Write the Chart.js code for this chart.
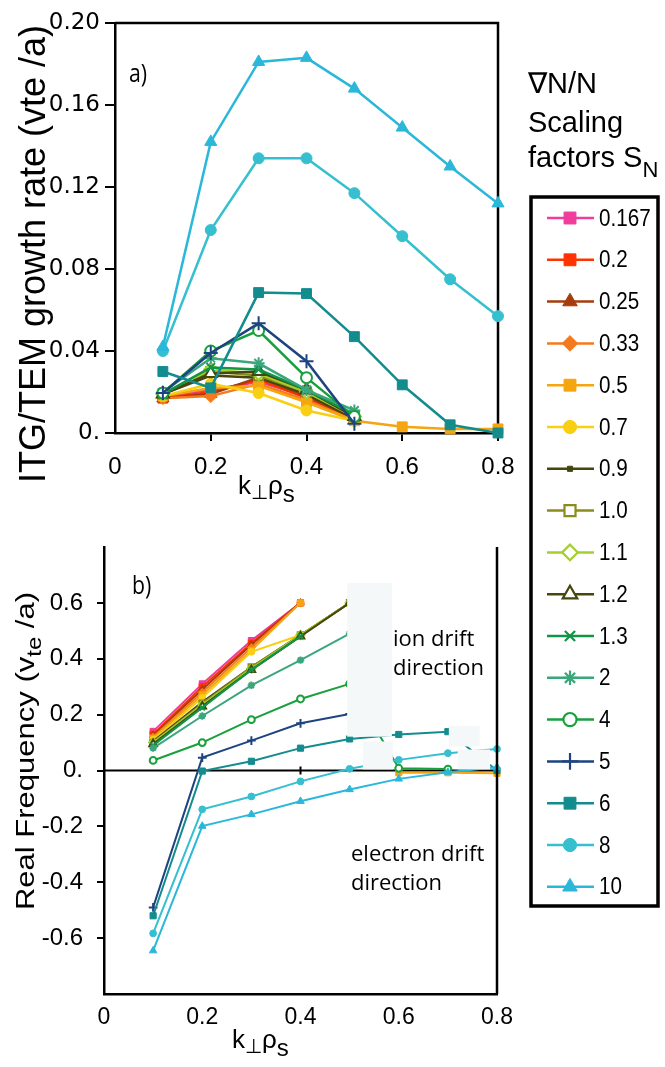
<!DOCTYPE html>
<html>
<head>
<meta charset="utf-8">
<script src="https://cdn.jsdelivr.net/npm/chart.js@4/dist/chart.umd.min.js"></script>
<style>
  body { margin: 0; background: #fff; }
  #wrap { position: relative; width: 665px; height: 1067px; }
  #wrap canvas { position: absolute; left: 0; top: 0; }
</style>
</head>
<body>
<div id="wrap">
  <canvas id="growth" width="665" height="1067"></canvas>
  <canvas id="freq" width="665" height="1067"></canvas>
</div>
<script>
// k_perp rho_s sample points
const kRho = [0.1, 0.2, 0.3, 0.4, 0.5, 0.6, 0.7, 0.8];

// gradient scaling factors S_N
const scalingFactors = ["0.167", "0.2", "0.25", "0.33", "0.5", "0.7", "0.9", "1.0", "1.1", "1.2", "1.3", "2", "4", "5", "6", "8", "10"];

// growth rate (v_te/a)
const growth_0p167 = [0.018, 0.021, 0.025, 0.018, 0.007];
const growth_0p2 = [0.017, 0.020, 0.026, 0.017, 0.007];
const growth_0p25 = [0.017, 0.019, 0.027, 0.018, 0.007];
const growth_0p33 = [0.017, 0.018, 0.024, 0.016, 0.006];
const growth_0p5 = [0.018, 0.022, 0.023, 0.015, 0.006, 0.003, 0.002, 0.002];
const growth_0p7 = [0.018, 0.024, 0.0195, 0.011, 0.006];
const growth_0p9 = [0.019, 0.028, 0.027, 0.019, 0.007];
const growth_1p0 = [0.019, 0.030, 0.028, 0.020, 0.008];
const growth_1p1 = [0.019, 0.031, 0.029, 0.020, 0.008];
const growth_1p2 = [0.019, 0.029, 0.030, 0.021, 0.008];
const growth_1p3 = [0.019, 0.032, 0.031, 0.021, 0.009];
const growth_2 = [0.020, 0.0365, 0.034, 0.021, 0.011];
const growth_4 = [0.0195, 0.040, 0.050, 0.027, 0.008];
const growth_5 = [0.0195, 0.039, 0.0535, 0.035, 0.0045];
const growth_6 = [0.030, 0.022, 0.0685, 0.068, 0.047, 0.0235, 0.004, 0.0];
const growth_8 = [0.040, 0.099, 0.134, 0.134, 0.117, 0.096, 0.075, 0.057];
const growth_10 = [0.042, 0.142, 0.181, 0.183, 0.168, 0.149, 0.130, 0.112];

// real frequency (v_te/a)
const freq_0p167 = [0.14, 0.31, 0.465, 0.60];
const freq_0p2 = [0.13, 0.30, 0.455, 0.60];
const freq_0p25 = [0.125, 0.29, 0.45, 0.60];
const freq_0p33 = [0.12, 0.28, 0.44, 0.60];
const freq_0p5 = [0.115, 0.27, 0.43, 0.60, null, -0.008, -0.008, -0.01];
const freq_0p7 = [0.11, 0.26, 0.425, 0.485, 0.60];
const freq_0p9 = [0.105, 0.245, 0.37, 0.485, 0.60];
const freq_1p0 = [0.10, 0.24, 0.37, 0.485, 0.60];
const freq_1p1 = [0.10, 0.235, 0.365, 0.485, 0.60];
const freq_1p2 = [0.095, 0.23, 0.36, 0.48, 0.60];
const freq_1p3 = [0.09, 0.225, 0.36, 0.48];
const freq_2 = [0.08, 0.195, 0.305, 0.395, 0.49];
const freq_4 = [0.036, 0.10, 0.182, 0.256, 0.31, 0.008, 0.005];
const freq_5 = [-0.49, 0.046, 0.107, 0.169, 0.202];
const freq_6 = [-0.52, -0.002, 0.033, 0.08, 0.113, 0.129, 0.139, 0.0];
const freq_8 = [-0.583, -0.139, -0.093, -0.039, 0.006, 0.038, 0.062, 0.077];
const freq_10 = [-0.645, -0.199, -0.157, -0.11, -0.068, -0.03, -0.006, 0.012];

const growthSeries = [growth_0p167, growth_0p2, growth_0p25, growth_0p33, growth_0p5, growth_0p7, growth_0p9,
    growth_1p0, growth_1p1, growth_1p2, growth_1p3, growth_2, growth_4, growth_5, growth_6, growth_8, growth_10];
const freqSeries = [freq_0p167, freq_0p2, freq_0p25, freq_0p33, freq_0p5, freq_0p7, freq_0p9,
    freq_1p0, freq_1p1, freq_1p2, freq_1p3, freq_2, freq_4, freq_5, freq_6, freq_8, freq_10];

// styling per series
const seriesColors = ["#ee3d9b", "#ff3300", "#a63c0c", "#f57a1e", "#f5a50f", "#f8cf12", "#454510", "#8c8c1c",
    "#a3d02c", "#46460f", "#129447", "#3aa67c", "#17a03c", "#1e4480", "#138c8e", "#36bfcf", "#2bb7d9"];
const markerStyles = ["rect", "rect", "triangle", "rectRot", "rect", "circle", "rect", "rect",
    "rectRot", "triangle", "crossRot", "star", "circle", "cross", "rect", "circle", "triangle"];
const openMarkers = [false, false, false, false, false, false, false, true,
    true, true, false, false, true, false, false, false, false];
const markerRadius = [7, 7, 7, 6.5, 7, 5.5, 3, 6.5, 6.5, 7, 6, 6, 5.5, 7, 7, 5.5, 7];

const SANS = '"Liberation Sans", Arial, sans-serif';
const HUMANIST = '"Open Sans", "Noto Sans", sans-serif';

Chart.defaults.color = "#000";

const lineMarks = new Set(["cross", "crossRot", "star"]);

const makeDatasets = (series, scale, lineWidth) => series.map((vals, i) => ({
    label: scalingFactors[i],
    data: vals.map((v, j) => ({ x: kRho[j], y: v })),
    borderColor: seriesColors[i],
    backgroundColor: seriesColors[i],
    pointBackgroundColor: openMarkers[i] ? "#fff" : seriesColors[i],
    pointBorderColor: seriesColors[i],
    pointBorderWidth: lineMarks.has(markerStyles[i]) || openMarkers[i] ? 2 : 1,
    pointStyle: markerStyles[i],
    pointRadius: markerRadius[i] * scale,
    borderWidth: lineWidth,
    spanGaps: false,
    clip: false,
    order: -i,
}));

// text made of runs, some shifted down as subscripts
const drawRuns = (ctx, runs, x, y) => {
    let cx = x;
    runs.forEach((r) => {
        ctx.font = r.font;
        ctx.fillText(r.text, cx, y + (r.dy || 0));
        cx += ctx.measureText(r.text).width;
    });
    return cx - x;
};

const runsWidth = (ctx, runs) => runs.reduce((w, r) => {
    ctx.font = r.font;
    return w + ctx.measureText(r.text).width;
}, 0);

const drawRotatedTitle = (ctx, runs, cx, cy, squeeze) => {
    ctx.save();
    ctx.translate(cx, cy);
    ctx.rotate(-Math.PI / 2);
    ctx.scale(1, squeeze || 1);
    ctx.textBaseline = "alphabetic";
    const w = runsWidth(ctx, runs);
    drawRuns(ctx, runs, -w / 2, 0);
    ctx.restore();
};

// narrow text: squeeze horizontally around the anchor
const drawNarrow = (ctx, text, x, y, font, squeeze) => {
    ctx.save();
    ctx.translate(x, y);
    ctx.scale(squeeze, 1);
    ctx.font = font;
    ctx.fillText(text, 0, 0);
    ctx.restore();
};

const kRhoRuns = [
    { text: "k", font: `26px ${SANS}` },
    { text: "\u22A5", font: `20px ${SANS}`, dy: 5 },
    { text: "\u03C1", font: `26px ${SANS}` },
    { text: "s", font: `24px ${SANS}`, dy: 8 },
];

const legendPlugin = {
    id: "scalingLegend",
    afterDraw(chart) {
        const ctx = chart.ctx;
        ctx.save();
        ctx.fillStyle = "#000";
        ctx.textBaseline = "alphabetic";
        ctx.font = `29px ${SANS}`;
        ctx.fillText("\u2207N/N", 528, 93);
        ctx.fillText("Scaling", 528, 132);
        drawRuns(ctx, [
            { text: "factors S", font: `29px ${SANS}` },
            { text: "N", font: `22px ${SANS}`, dy: 10 },
        ], 528, 167);

        ctx.lineWidth = 3.5;
        ctx.strokeStyle = "#000";
        ctx.strokeRect(531, 197, 127, 709);

        scalingFactors.forEach((label, i) => {
            const y = 218 + i * 41.8;
            ctx.strokeStyle = seriesColors[i];
            ctx.lineWidth = 2.5;
            ctx.beginPath();
            ctx.moveTo(547, y);
            ctx.lineTo(594, y);
            ctx.stroke();
            ctx.fillStyle = openMarkers[i] ? "#fff" : seriesColors[i];
            ctx.lineWidth = lineMarks.has(markerStyles[i]) || openMarkers[i] ? 2.2 : 1;
            Chart.helpers.drawPoint(ctx, {
                pointStyle: markerStyles[i],
                radius: markerRadius[i] * 1.2,
                rotation: 0,
                borderWidth: ctx.lineWidth,
            }, 570, y);
            ctx.fillStyle = "#000";
            ctx.textBaseline = "middle";
            drawNarrow(ctx, label, 599, y + 1, `24px ${SANS}`, 0.86);
            ctx.textBaseline = "alphabetic";
        });
        ctx.restore();
    },
};

const growthDecor = {
    id: "growthDecor",
    beforeDatasetsDraw(chart) {
        const { ctx, chartArea } = chart;
        ctx.save();
        ctx.strokeStyle = "#000";
        ctx.lineWidth = 2.5;
        ctx.beginPath();
        ctx.moveTo(chartArea.left, chartArea.top);
        ctx.lineTo(chartArea.right, chartArea.top);
        ctx.lineTo(chartArea.right, chartArea.bottom);
        ctx.stroke();
        ctx.restore();
    },
    afterDraw(chart) {
        const ctx = chart.ctx;
        ctx.save();
        ctx.fillStyle = "#000";
        ctx.textBaseline = "alphabetic";
        drawNarrow(ctx, "a)", 129, 82, `25px ${HUMANIST}`, 0.85);
        drawRuns(ctx, kRhoRuns, 238, 494);
        drawRotatedTitle(ctx, [{ text: "ITG/TEM growth rate (vte /a)", font: `36px ${SANS}` }], 45, 254);
        ctx.restore();
    },
};

// light panels behind the drift labels, in data units
const labelPanels = [
    [0.495, 0.586, 0.121, 0.671],
    [0.527, 0.588, 0.004, 0.104],
    [0.702, 0.765, 0.086, 0.160],
    [0.720, 0.786, 0.004, 0.075],
];

const freqDecor = {
    id: "freqDecor",
    beforeDatasetsDraw(chart) {
        const { ctx, chartArea } = chart;
        const ys = chart.scales.y;
        const zy = ys.getPixelForValue(0);
        ctx.save();
        ctx.strokeStyle = "#000";
        ctx.lineWidth = 2.2;
        ctx.beginPath();
        ctx.moveTo(chartArea.left, zy);
        ctx.lineTo(chartArea.right, zy);
        ctx.stroke();
        ctx.restore();
    },
    afterDatasetsDraw(chart) {
        const { ctx, chartArea } = chart;
        const xs = chart.scales.x;
        const ys = chart.scales.y;
        ctx.save();
        ctx.fillStyle = "#f5f8f9";
        labelPanels.forEach(([x0, x1, y0, y1]) => {
            const l = xs.getPixelForValue(x0);
            const r = xs.getPixelForValue(x1);
            const t = ys.getPixelForValue(y1);
            const b = ys.getPixelForValue(y0);
            ctx.fillRect(l, t, r - l, b - t);
        });

        // tick on the zero line
        const zy = ys.getPixelForValue(0);
        const tx = xs.getPixelForValue(0.4);
        ctx.strokeStyle = "#000";
        ctx.lineWidth = 2;
        ctx.beginPath();
        ctx.moveTo(tx, zy - 4);
        ctx.lineTo(tx, zy + 4);
        ctx.stroke();

        // right frame edge
        ctx.lineWidth = 2.5;
        ctx.beginPath();
        ctx.moveTo(chartArea.right, chartArea.top);
        ctx.lineTo(chartArea.right, chartArea.bottom);
        ctx.stroke();

        ctx.fillStyle = "#000";
        ctx.textBaseline = "alphabetic";
        ctx.font = `22px ${HUMANIST}`;
        ctx.fillText("ion drift", 393, 646);
        ctx.fillText("direction", 393, 675);
        ctx.fillText("electron drift", 351, 861);
        ctx.fillText("direction", 351, 890);
        drawNarrow(ctx, "b)", 132, 594, `25px ${HUMANIST}`, 0.85);
        ctx.restore();
    },
    afterDraw(chart) {
        const ctx = chart.ctx;
        ctx.save();
        ctx.fillStyle = "#000";
        ctx.textBaseline = "alphabetic";
        drawRuns(ctx, kRhoRuns, 232, 1048);
        drawRotatedTitle(ctx, [
            { text: "Real Frequency (v", font: `31px ${SANS}` },
            { text: "te", font: `24px ${SANS}`, dy: 8 },
            { text: " /a)", font: `31px ${SANS}` },
        ], 34, 751, 0.85);
        ctx.restore();
    },
};

const isZero = (v) => Math.abs(v) < 1e-9;

new Chart(document.getElementById("growth"), {
    type: "line",
    data: { datasets: makeDatasets(growthSeries, 1, 2.5) },
    options: {
        responsive: false,
        animation: false,
        events: [],
        layout: { padding: { top: 23, right: 167, left: 0, bottom: 0 } },
        plugins: { legend: { display: false }, tooltip: { enabled: false } },
        scales: {
            x: {
                type: "linear",
                min: 0,
                max: 0.8,
                afterFit: (s) => { s.height = 1067 - 433; },
                ticks: {
                    stepSize: 0.2,
                    padding: 12,
                    font: { family: SANS, size: 24 },
                    callback: (v) => (isZero(v) ? "0" : v.toFixed(1)),
                },
                grid: {
                    drawOnChartArea: false,
                    tickLength: 8,
                    lineWidth: 2,
                    tickColor: (c) => (isZero(c.tick.value) ? "transparent" : "#000"),
                },
                border: { color: "#000", width: 2.5 },
            },
            y: {
                min: 0,
                max: 0.2,
                afterFit: (s) => { s.width = 115; },
                ticks: {
                    stepSize: 0.04,
                    padding: 5,
                    font: { family: '"DejaVu Sans", Verdana, sans-serif', size: 23 },
                    callback: (v) => (isZero(v) ? "0." : v.toFixed(2)),
                },
                grid: { drawOnChartArea: false, tickLength: 10, lineWidth: 2, tickColor: "#000" },
                border: { color: "#000", width: 2.5 },
            },
        },
    },
    plugins: [growthDecor, legendPlugin],
});

new Chart(document.getElementById("freq"), {
    type: "line",
    data: { datasets: makeDatasets(freqSeries, 0.62, 2) },
    options: {
        responsive: false,
        animation: false,
        events: [],
        layout: { padding: { top: 547, right: 168, left: 0, bottom: 0 } },
        plugins: { legend: { display: false }, tooltip: { enabled: false } },
        scales: {
            x: {
                type: "linear",
                min: 0,
                max: 0.8,
                afterFit: (s) => { s.height = 1067 - 994; },
                ticks: {
                    stepSize: 0.2,
                    padding: 10,
                    font: { family: SANS, size: 23 },
                    callback: (v) => (isZero(v) ? "0" : v.toFixed(1)),
                },
                grid: { drawOnChartArea: false, drawTicks: false },
                border: { color: "#000", width: 2.5 },
            },
            y: {
                min: -0.8,
                max: 0.8,
                afterFit: (s) => { s.width = 104; },
                ticks: {
                    stepSize: 0.2,
                    padding: 14,
                    font: { family: SANS, size: 24 },
                    callback: (v) => (Math.abs(v) > 0.7 ? "" : isZero(v) ? "0." : v.toFixed(1)),
                },
                grid: {
                    drawOnChartArea: false,
                    tickLength: 7,
                    lineWidth: 2,
                    tickColor: (c) => (Math.abs(c.tick.value) > 0.7 ? "transparent" : "#000"),
                },
                border: { color: "#000", width: 2.5 },
            },
        },
    },
    plugins: [freqDecor],
});
</script>
</body>
</html>
